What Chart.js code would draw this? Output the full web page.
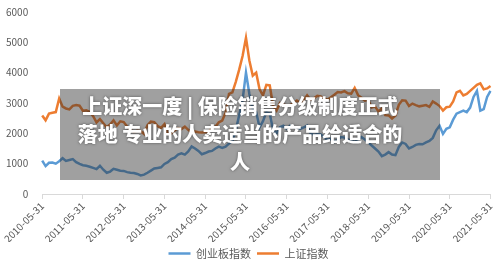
<!DOCTYPE html>
<html>
<head>
<meta charset="utf-8">
<script src="https://cdn.jsdelivr.net/npm/chart.js@4"></script>
<style>
  body { margin: 0; background: #fff; }
  #wrap { position: relative; width: 500px; height: 269px; }
  #myChart { display: block; }
  #overlay {
    position: absolute; left: 60px; top: 89px; width: 380px; height: 91px;
    background: rgba(44, 44, 44, 0.45);
  }
  #headline {
    position: absolute; left: 40px; top: 92px; width: 400px;
    text-align: center; color: #fff;
    font: 900 20px "Noto Sans CJK SC", sans-serif; line-height: 28px;
    text-shadow: 0 0 3px rgba(0, 0, 0, 0.5);
  }
</style>
</head>
<body>
<div id="wrap">
  <canvas id="myChart" width="500" height="269"></canvas>
  <div id="overlay"></div>
  <div id="headline">上证深一度 | 保险销售分级制度正式<br>落地 专业的人卖适当的产品给适合的<br>人</div>
</div>
<script>
// one point per month, 2010-05 .. 2021-05
const tickLabels = ['2010-05-31', '2011-05-31', '2012-05-31', '2013-05-31', '2014-05-31', '2015-05-31',
  '2016-05-31', '2017-05-31', '2018-05-31', '2019-05-31', '2020-05-31', '2021-05-31']

const chinext = [
  1100, 920, 1030, 1040, 1000, 1080, 1180, 1090,
  1120, 1150, 1050, 990, 950, 930, 900, 860, 820, 930, 800, 700,
  740, 830, 800, 770, 760, 720, 700, 690, 660, 610, 640, 700,
  770, 840, 860, 880, 990, 1050, 1150, 1200, 1300, 1340, 1300, 1400,
  1570, 1500, 1420, 1310, 1350, 1400, 1420, 1500, 1560, 1520, 1560, 1660,
  1750, 2100, 2600, 3100, 4000, 3300, 2800, 2700, 2200, 2400, 2700, 2650,
  2100, 2000, 2200, 2250, 2150, 2250, 2200, 2200, 2150, 2200, 2250, 2000,
  1950, 1980, 1960, 1880, 1780, 1820, 1720, 1800, 1880, 1860, 1800, 1760,
  1720, 1800, 1880, 1800, 1700, 1600, 1500, 1400, 1250, 1300, 1380, 1300,
  1280, 1550, 1700, 1650, 1500, 1550, 1620, 1650, 1640, 1700, 1750, 1850,
  2100, 2250, 1980, 2150, 2200, 2450, 2650, 2700, 2750, 2700, 2850, 3200,
  3400, 2750, 2800, 3200, 3400
]

const shanghai = [
  2590, 2430, 2650, 2680, 2700, 3150, 2880, 2820,
  2790, 2905, 2930, 2911, 2743, 2762, 2701, 2568, 2359, 2468, 2333, 2199,
  2292, 2428, 2263, 2397, 2373, 2225, 2103, 2047, 2086, 2069, 1980, 2269,
  2385, 2366, 2237, 2178, 2301, 1979, 1994, 2098, 2175, 2141, 2220, 2116,
  2033, 2056, 2033, 2026, 2039, 2048, 2202, 2217, 2364, 2420, 2683, 3300,
  3350, 3700, 4100, 4550, 5150, 4400, 3900, 4000, 3450, 3250, 3600, 3580,
  2900, 2750, 3000, 2950, 2920, 2930, 3000, 3080, 3010, 3100, 3250, 3110,
  3160, 3240, 3220, 3150, 3110, 3190, 3270, 3360, 3350, 3390, 3320, 3310,
  3500, 3260, 3170, 3080, 3100, 2850, 2880, 2720, 2820, 2600, 2590, 2490,
  2590, 2940, 3090, 3080, 2900, 2980, 2930, 2890, 2910, 2930, 2870, 3050,
  2980, 2900, 2750, 2860, 2880, 3050, 3350, 3400, 3250, 3300, 3400, 3500,
  3600, 3650, 3450, 3480, 3560
]

const months = []
for (let i = 0; i < chinext.length; i++) {
  const m = 4 + i
  const y = 2010 + Math.floor(m / 12)
  const mm = String(m % 12 + 1).padStart(2, '0')
  months.push(y + '-' + mm)
}

const font = '"Noto Sans CJK SC", sans-serif'
const grey = '#595959'

const data = {
  labels: months,
  datasets: [{
    label: '创业板指数',
    data: chinext,
    borderColor: '#5b9bd5',
    backgroundColor: '#5b9bd5',
    borderWidth: 2.5,
    pointRadius: 0,
  }, {
    label: '上证指数',
    data: shanghai,
    borderColor: '#ed7d31',
    backgroundColor: '#ed7d31',
    borderWidth: 2.5,
    pointRadius: 0,
  }]
}

const config = {
  type: 'line',
  data: data,
  options: {
    responsive: false,
    animation: false,
    layout: { padding: { left: 0, right: 3, top: -3, bottom: 0 } },
    plugins: {
      tooltip: { enabled: false },
      legend: {
        position: 'bottom',
        labels: {
          usePointStyle: true,
          pointStyle: 'line',
          pointStyleWidth: 22,
          padding: 6,
          color: grey,
          font: { family: font, size: 11 }
        }
      }
    },
    scales: {
      x: {
        afterFit: (s) => { s.height = 48 },
        border: { color: '#d9d9d9' },
        grid: {
          drawOnChartArea: false,
          tickLength: 5,
          color: (c) => (c.index % 12 === 0 ? '#d9d9d9' : 'rgba(0,0,0,0)')
        },
        ticks: {
          autoSkip: false,
          minRotation: 45,
          maxRotation: 45,
          padding: 1,
          color: grey,
          font: { family: font, size: 10 },
          callback: (v, i) => (i % 12 === 0 ? tickLabels[i / 12] : '')
        }
      },
      y: {
        min: 0,
        max: 6000,
        border: { display: false },
        grid: { display: false },
        ticks: {
          stepSize: 1000,
          padding: 6,
          color: grey,
          font: { family: font, size: 10 },
          callback: (v) => String(v)
        }
      }
    }
  }
}

const myChart = new Chart(document.getElementById('myChart'), config)
</script>
</body>
</html>
